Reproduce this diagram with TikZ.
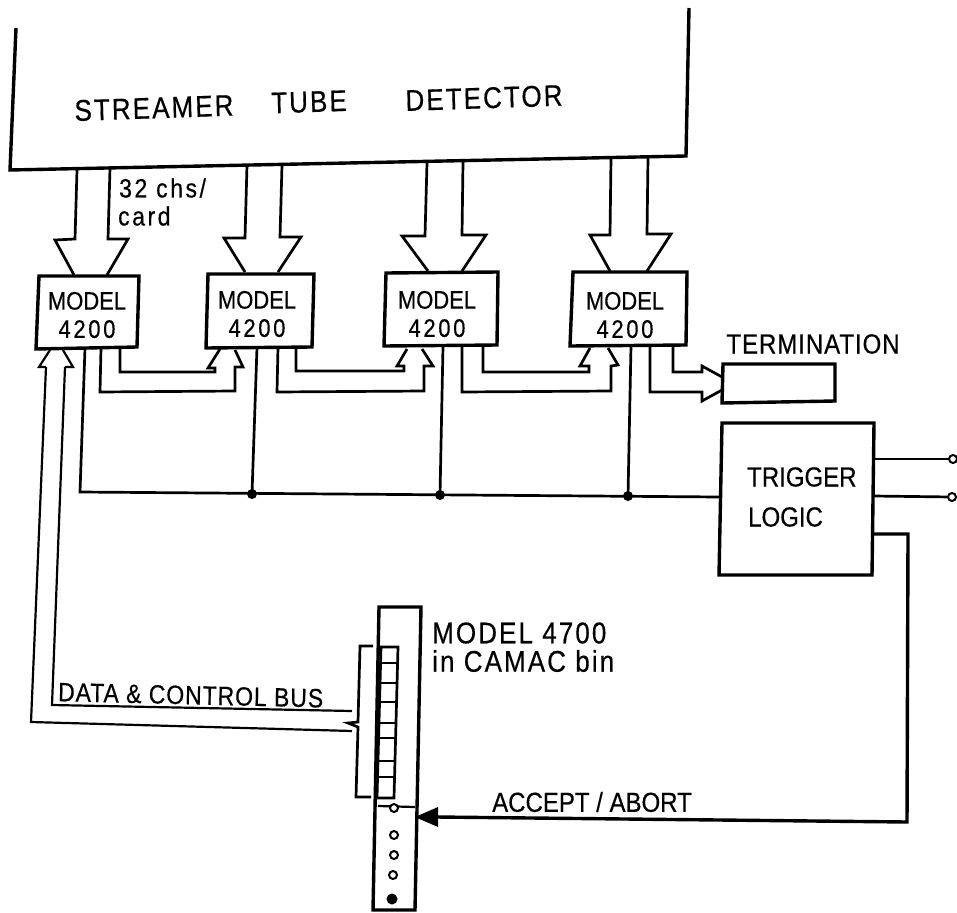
\documentclass[tikz,border=0pt]{standalone}
\usepackage{fontspec}
\setmainfont[FakeBold=0.5]{Liberation Sans}
\newfontfamily\lreg[FakeBold=0.5]{Liberation Sans}
\newfontfamily\lsp[LetterSpace=8,FakeBold=0.5]{Liberation Sans}
\newfontfamily\lspw[LetterSpace=11,FakeBold=0.5]{Liberation Sans}
\newfontfamily\lspn[LetterSpace=4,FakeBold=0.5]{Liberation Sans}
\newfontfamily\lspd[LetterSpace=12,FakeBold=0.5]{Liberation Sans}
\begin{document}
\begin{tikzpicture}[x=1pt,y=-1pt,
  wire/.style={draw=black,line width=2.7pt,line join=miter},
  thin wire/.style={draw=black,line width=2.2pt},
  heavy/.style={draw=black,line width=3.4pt,line join=miter},
  tall/.style={yscale=1.15,transform shape},
  lbl/.style={inner sep=0pt,tall,font=\fontsize{24}{28}\lreg},
  big lbl/.style={inner sep=0pt,tall,font=\fontsize{26}{30}\lsp},
  model lbl/.style={inner sep=0pt,tall,align=center,font=\fontsize{22}{24.5}\lreg},
  small lbl/.style={inner sep=0pt,tall,font=\fontsize{23}{27}\lspw},
  dot/.style={circle,fill=black,inner sep=0pt,minimum size=10pt},
  hole/.style={circle,draw=black,line width=2pt,fill=white,inner sep=0pt,minimum size=8pt}]
\useasboundingbox (0,0) rectangle (957,912);
\fill[white] (0,0) rectangle (957,912);
% detector
\draw[heavy] (16,28) -- (10,170) -- (686,156) -- (689,8);
\node[big lbl,rotate=1.7] (stl) at (154,108) {STREAMER};
\node[big lbl,rotate=1.7] (ttl) at (309,102) {TUBE};
\node[big lbl,rotate=1.7] (dtl) at (484,98) {DETECTOR};
\node[small lbl,anchor=west] (ch) at (119,188) {32 chs/};
\node[small lbl,anchor=west] (cd) at (118,216) {card};
% models
\draw[heavy] (39,276) -- (139,276) -- (137,347) -- (36,349) -- cycle;
\draw[heavy] (208,274) -- (314,274) -- (312,347) -- (206,348) -- cycle;
\draw[heavy] (386,273) -- (498,272) -- (497,345) -- (384,346) -- cycle;
\draw[heavy] (573,272) -- (687,272) -- (686,345) -- (570,346) -- cycle;
\foreach \n/\x/\y in {a/87/315,b/257/314,c/437/314,d/625/315}{
  \node[model lbl] (m\n) at (\x,\y) {MODEL\\{\lspd 4200}};
}
% big arrows
\draw[wire] (77,170) -- (75,239) -- (55,240) -- (74,275);
\draw[wire] (107,275) -- (128,239) -- (108,239) -- (110,168);
\draw[wire] (247,165) -- (245,238) -- (224,238) -- (245,272);
\draw[wire] (278,272) -- (301,237) -- (280,237) -- (282,165);
\draw[wire] (427,163) -- (425,236) -- (402,236) -- (428,271);
\draw[wire] (462,271) -- (486,235) -- (462,235) -- (463,162);
\draw[wire] (611,158) -- (610,235) -- (590,235) -- (610,271);
\draw[wire] (647,271) -- (671,234) -- (647,234) -- (648,157);
% small double arrows
\draw[wire] (101,348) -- (100,392) -- (235,391) -- (235,367) -- (243,367) -- (235,350);
\draw[wire] (220,349) -- (208,368) -- (215,368) -- (215,372) -- (120,372) -- (120,348);
\draw[wire] (278,347) -- (277,392) -- (424,391) -- (424,366) -- (433,366) -- (422,349);
\draw[wire] (407,349) -- (397,366) -- (404,366) -- (404,371) -- (296,371) -- (296,347);
\draw[wire] (462,347) -- (462,392) -- (611,391) -- (611,366) -- (618,365) -- (608,348);
\draw[wire] (590,348) -- (580,366) -- (589,366) -- (589,372) -- (483,372) -- (483,346);
\draw[wire] (650,346) -- (650,392) -- (702,392) -- (702,401) -- (722,390);
\draw[wire] (722,377) -- (702,366) -- (702,372) -- (673,372) -- (673,346);
% termination
\draw[heavy] (723,364) -- (835,364) -- (835,401) -- (722,403) -- cycle;
\node[inner sep=0pt,tall,font=\fontsize{24}{28}\lspn] (term) at (813,344) {TERMINATION};
% trigger
\draw[heavy] (722,423) -- (874,423) -- (872,575) -- (719,575) -- cycle;
\node[lbl,anchor=west] (t1) at (747,477) {TRIGGER};
\node[lbl,anchor=west] (t2) at (748,517) {LOGIC};
% bus
\draw[wire] (85,348) -- (80,492) -- (720,497);
\draw[wire] (257,347) -- (252,494);
\draw[wire] (443,346) -- (440,495);
\draw[wire] (631,345) -- (628,496);
\node[dot] (j1) at (252,494) {};
\node[dot] (j2) at (440,495) {};
\node[dot] (j3) at (628,496) {};
% outputs
\node[hole] (o1) at (953,459) {};
\node[hole] (o2) at (952,497) {};
\draw[wire] (874,459) -- (o1);
\draw[wire] (873,496) -- (o2);
\draw[heavy] (873,534) -- (908,534) -- (907,822) -- (437,817);
\node[lbl,anchor=west] (acc) at (492,802) {ACCEPT / ABORT};
\fill (415,817) -- (438,807) -- (438,827) -- cycle;
% rack
\draw[heavy] (379,607) -- (421,607) -- (415,910) -- (373,910) -- cycle;
\draw[thin wire] (378,806) -- (415,807);
\draw[wire] (381,647) -- (398,647) -- (394,798) -- (377,798) -- cycle;
\foreach \y/\a/\b in {663/381/398,683/380/397,702/380/397,723/379/396,738/379/396,761/378/395,777/378/395}{
  \draw[wire] (\a,\y) -- (\b,\y);
}
\node[hole] (h1) at (394,808) {};
\node[hole] (h2) at (394,835) {};
\node[hole] (h3) at (394,855) {};
\node[hole] (h4) at (393,875) {};
\node[dot,minimum size=11pt] (h5) at (392,899) {};
\draw[wire] (373,646) -- (360,646) -- (358,722) -- (348,723) -- (358,727) -- (356,797) -- (371,797);
\draw[thin wire] (46,367) -- (31,722) -- (352,731);
\draw[thin wire] (65,367) -- (52,705) -- (352,711);
\draw[thin wire] (46,367) -- (39,367) -- (50,350);
\draw[thin wire] (65,367) -- (73,367) -- (63,350);
\node[inner sep=0pt,tall,font=\fontsize{23}{27}\lspn,rotate=-1.2,anchor=west] (bus) at (58,692) {DATA \& CONTROL BUS};
\node[big lbl,anchor=west] (r1) at (432,633) {MODEL 4700};
\node[big lbl,anchor=west] (r2) at (432,661) {in CAMAC bin};
\end{tikzpicture}
\end{document}
